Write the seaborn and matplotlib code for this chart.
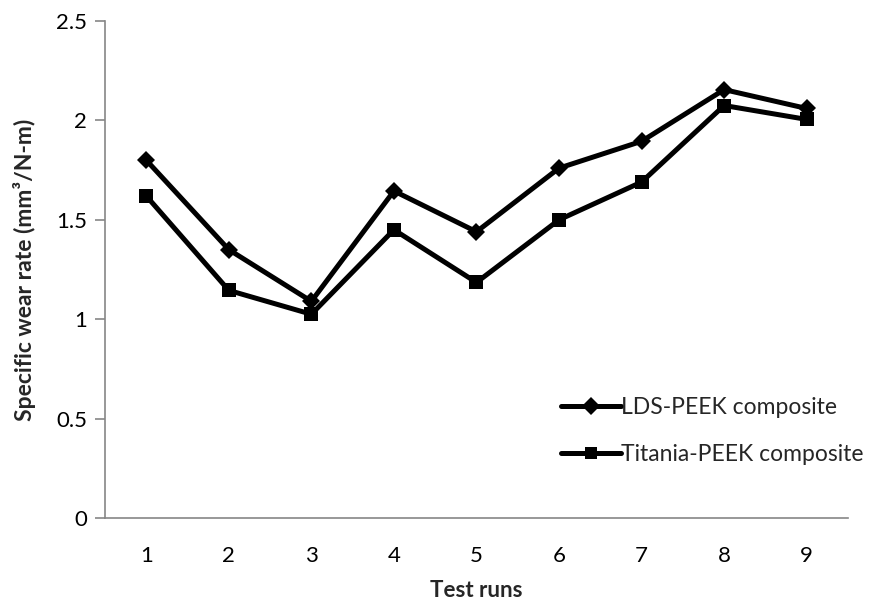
import matplotlib
matplotlib.use("Agg")
import matplotlib.pyplot as plt
import seaborn as sns
import pandas as pd

runs = [1, 2, 3, 4, 5, 6, 7, 8, 9]
lds_peek = [1.80, 1.35, 1.09, 1.645, 1.44, 1.76, 1.895, 2.155, 2.06]
titania_peek = [1.62, 1.145, 1.025, 1.45, 1.185, 1.50, 1.69, 2.075, 2.005]
series_names = ["LDS-PEEK composite", "Titania-PEEK composite"]
y_ticks = [0, 0.5, 1, 1.5, 2, 2.5]
y_tick_labels = ["0", "0.5", "1", "1.5", "2", "2.5"]

df = pd.DataFrame({
    "run": runs * 2,
    "rate": lds_peek + titania_peek,
    "series": [series_names[0]] * len(runs) + [series_names[1]] * len(runs),
})

sns.set_theme(style="white")
plt.rcParams["font.family"] = ["Lato", "DejaVu Sans"]

fig = plt.figure(figsize=(8.8, 6.02), dpi=100)
ax = fig.add_axes([0.1193, 0.1395, 0.8443, 0.8256])

sns.lineplot(data=df, x="run", y="rate", hue="series", style="series",
             markers={series_names[0]: "D", series_names[1]: "s"},
             dashes=False, palette=["black", "black"], linewidth=3.6,
             markersize=9, markeredgewidth=0, ax=ax, legend=True)
for line, ms in zip(ax.get_lines()[:2], [9, 9.5]):
    line.set_markersize(ms)

ax.set_xlim(0.5, 9.5)
ax.set_ylim(0, 2.5)
ax.set_xticks(runs)
ax.set_xticklabels([str(r) for r in runs])
ax.set_yticks(y_ticks)
ax.set_yticklabels(y_tick_labels)

for s in ["top", "right"]:
    ax.spines[s].set_visible(False)
for s in ["left", "bottom"]:
    ax.spines[s].set_color("#868686")
    ax.spines[s].set_linewidth(1.2)

ax.tick_params(axis="y", which="both", left=True, length=7, width=1.2,
               color="#868686", labelsize=16, pad=6, labelcolor="black")
ax.tick_params(axis="x", which="both", bottom=False, labelsize=16, pad=14,
               labelcolor="black")

ax.set_xlabel("Test runs", fontsize=16, fontweight="bold", labelpad=10)
ax.set_ylabel("Specific wear rate (mm³/N-m)", fontsize=16.5, fontweight="bold",
              labelpad=14)

leg = ax.legend(loc="center left", bbox_to_anchor=(0.614, 0.175), frameon=False,
                fontsize=16.5, handlelength=2.6, handletextpad=0.0,
                labelspacing=1.1, borderaxespad=0, borderpad=0)
for h in leg.legend_handles:
    h.set_linewidth(3.6)

fig.savefig("out.png", dpi=100)
